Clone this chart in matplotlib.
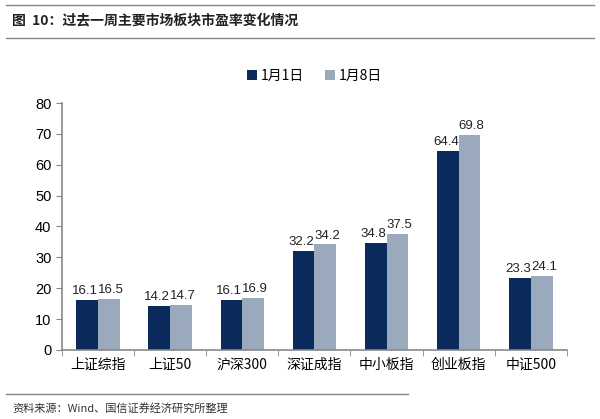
import matplotlib.pyplot as plt
import numpy as np

plt.rcParams['font.family'] = ['Noto Sans CJK SC', 'DejaVu Sans']

# Data
categories = ['上证综指', '上证50', '沪深300', '深证成指', '中小板指', '创业板指', '中证500']
jan1 = [16.1, 14.2, 16.1, 32.2, 34.8, 64.4, 23.3]
jan8 = [16.5, 14.7, 16.9, 34.2, 37.5, 69.8, 24.1]
series_names = ['1月1日', '1月8日']

dark = '#0b2a5c'
light = '#9aa9bc'

fig = plt.figure(figsize=(6, 4.19), dpi=100)
ax = fig.add_axes([0.103, 0.165, 0.842, 0.589])

x = np.arange(len(categories))
w = 0.3
b1 = ax.bar(x - w / 2, jan1, w, color=dark, label=series_names[0])
b2 = ax.bar(x + w / 2, jan8, w, color=light, label=series_names[1])

# Value labels, nudged apart so neighbours do not collide
for bars, dx in ((b1, -1.5), (b2, 1.5)):
    for rect in bars:
        h = rect.get_height()
        ax.annotate(f'{h:.1f}', (rect.get_x() + rect.get_width() / 2, h),
                    textcoords='offset points', xytext=(dx, 2), ha='center', va='bottom',
                    fontsize=9.5, family='Liberation Sans', color='#222222')

ax.set_xlim(-0.5, len(categories) - 0.5)
ax.set_ylim(0, 80)
ax.set_yticks(range(0, 81, 10))
ax.set_xticks(x)
ax.set_xticklabels(categories, fontsize=10)
ax.set_xticks(np.arange(-0.5, len(categories), 1), minor=True)
ax.tick_params(axis='x', which='major', length=0, pad=6)
ax.tick_params(axis='x', which='minor', length=4, color='#888888', direction='out')
ax.tick_params(axis='y', length=4, color='#888888', direction='out')
for lbl in ax.get_yticklabels():
    lbl.set_fontfamily('Liberation Sans')
    lbl.set_fontsize(10.5)

for s in ['top', 'right']:
    ax.spines[s].set_visible(False)
for s in ['left', 'bottom']:
    ax.spines[s].set_color('#888888')
    ax.spines[s].set_linewidth(1.2)

ax.legend(loc='lower center', bbox_to_anchor=(0.5, 1.03), ncol=2, frameon=False,
          fontsize=10, handlelength=0.7, handleheight=0.7, handletextpad=0.3,
          columnspacing=1.5)

# Title and source
fig.add_artist(plt.Line2D([0.01, 0.99], [0.988, 0.988], color='#888888', lw=1))
fig.add_artist(plt.Line2D([0.01, 0.99], [0.91, 0.91], color='#888888', lw=1))
fig.text(0.02, 0.951, '图  10：过去一周主要市场板块市盈率变化情况', fontsize=10,
         fontweight='bold', va='center', color='#222222')
fig.add_artist(plt.Line2D([0.01, 0.68], [0.06, 0.06], color='#888888', lw=1))
fig.text(0.02, 0.025, '资料来源：Wind、国信证券经济研究所整理', fontsize=8,
         va='center', color='#333333')

fig.savefig('out.png', dpi=100)
